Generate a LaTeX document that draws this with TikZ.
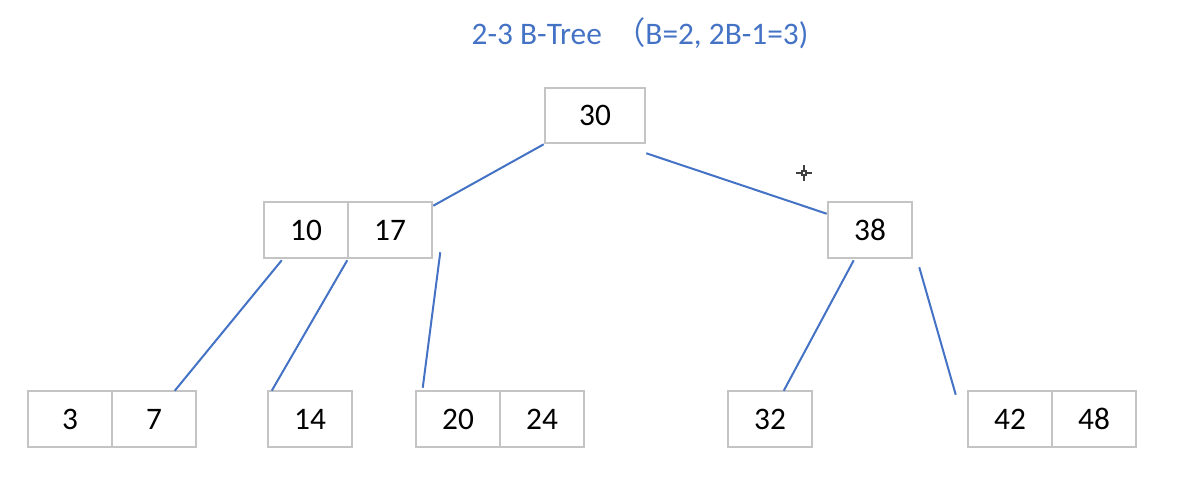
\documentclass[tikz,border=0pt]{standalone}
\usepackage{fontspec}
\setmainfont{Carlito}
\newfontfamily\cjk{Noto Sans CJK SC}
\usetikzlibrary{calc}
\definecolor{boxgray}{HTML}{C4C4C4}
\definecolor{linkblue}{HTML}{4472C4}
\tikzset{
  key/.style={draw=boxgray, line width=1.9pt, fill=white, minimum width=63pt, minimum height=42pt, inner sep=0pt, font=\fontsize{23.5}{27}\selectfont},
  rootkey/.style={key, minimum width=75pt, minimum height=41.25pt},
  link/.style={draw=linkblue, line width=1.5pt},
  cursor/.style={draw=black!75, line width=1pt}
}
\begin{document}
\begin{tikzpicture}[x=0.75pt, y=-0.75pt]
\useasboundingbox (0,0) rectangle (1198,479);
\node[text=linkblue, font=\fontsize{23.5}{27}\selectfont] (title) at (640,33) {2-3 B-Tree \,{\cjk （}B=2, 2B-1=3)};
% root
\node[rootkey] (n30) at (595,115.5) {30};
% level 1
\node[key] (n10) at (306,230) {10};
\node[key] (n17) at (390,230) {17};
\node[key] (n38) at (870,230) {38};
% leaves
\node[key] (n3) at (70,419) {3};
\node[key] (n7) at (154,419) {7};
\node[key] (n14) at (310,419) {14};
\node[key] (n20) at (458,419) {20};
\node[key] (n24) at (542,419) {24};
\node[key] (n32) at (770,419) {32};
\node[key] (n42) at (1010,419) {42};
\node[key] (n48) at (1094,419) {48};
% links
\draw[link] (n30.south west) -- ($(n17.north east)+(0,5)$);
\draw[link] ($(n30.south east)+(0,9)$) -- ($(n38.north west)+(0,13)$);
\draw[link] ($(n10.south west)+(19,1)$) -- ($(n7.north west)+(64,1)$);
\draw[link] ($(n10.south east)+(-2,1)$) -- ($(n14.north west)+(5,1)$);
\draw[link] ($(n17.south east)+(7,-7)$) -- ($(n20.north west)+(8,-2)$);
\draw[link] ($(n38.south west)+(27,1)$) -- ($(n32.north west)+(57,1)$);
\draw[link] ($(n38.south east)+(6,8)$) -- ($(n42.north west)+(-11,5)$);
% cursor mark
\coordinate (cur) at (804,173);
\draw[cursor] ($(cur)+(-8,0)$) -- ($(cur)+(-2.5,0)$);
\draw[cursor] ($(cur)+(2.5,0)$) -- ($(cur)+(8,0)$);
\draw[cursor] ($(cur)+(0,-8)$) -- ($(cur)+(0,-2.5)$);
\draw[cursor] ($(cur)+(0,2.5)$) -- ($(cur)+(0,8)$);
\draw[cursor, line width=0.8pt] ($(cur)+(-2,-2)$) rectangle ($(cur)+(2,2)$);
\end{tikzpicture}
\end{document}
